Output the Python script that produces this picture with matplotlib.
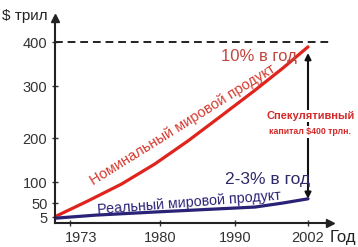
import numpy as np
import matplotlib
matplotlib.use("Agg")
import matplotlib.pyplot as plt
import matplotlib.transforms as mtransforms

plt.rcParams['font.family'] = ['Liberation Sans', 'DejaVu Sans']

# schematic axes: tick values and how far along the drawn axis they sit
x_years = [1972, 1973, 1980, 1990, 2002, 2005.6]
x_pos = [0, 15, 105, 180, 253, 275]
y_vals = [0, 5, 50, 100, 200, 300, 400, 455]
y_pos = [0, 6, 20, 41, 85, 137, 181, 205]

xticks = [1973, 1980, 1990, 2002]
yticks = [5, 50, 100, 200, 300, 400]

# curves
nom_years = [1972, 1974.4, 1977, 1979.6, 1983.7, 1988.3, 1993.3, 1997.9, 2002]
nom_vals = [6, 55, 95, 141, 193, 244, 292, 341, 389]
real_years = [1972, 1975, 1979.6, 1986, 1993.3, 1997.9, 2002]
real_vals = [4, 11, 21, 29, 37, 50, 60]

red = '#e0231c'
navy = '#2a2277'

fig = plt.figure(figsize=(3.58, 2.47), dpi=100)
ax = fig.add_axes([55/358, 24/247, 275/358, 205/247])

ax.set_xscale('function', functions=(lambda v: np.interp(v, x_years, x_pos),
                                     lambda p: np.interp(p, x_pos, x_years)))
ax.set_yscale('function', functions=(lambda v: np.interp(v, y_vals, y_pos),
                                     lambda p: np.interp(p, y_pos, y_vals)))
ax.set_xlim(1972, 2005.6)
ax.set_ylim(0, 455)

ax.plot(nom_years, nom_vals, color=red, lw=2.3, solid_capstyle='round',
        solid_joinstyle='round')
ax.plot(real_years, real_vals, color=navy, lw=2.3, solid_capstyle='round',
        solid_joinstyle='round')

ax.axhline(400, color='#222222', lw=1.4, ls=(0, (4, 2.5)))

ax.annotate('', xy=(2002, 375), xytext=(2002, 60),
            arrowprops=dict(arrowstyle='<|-|>', color='#111111', lw=1.5,
                            mutation_scale=9, shrinkA=0, shrinkB=0))

ax.text(2002.4, 242, 'Спекулятивный', color='#d42a2a', fontsize=8,
        fontweight='bold', ha='center', va='center',
        bbox=dict(fc='white', ec='none', pad=1))
ax.text(2002.4, 212, 'капитал $400 трлн.', color='#d42a2a', fontsize=6.3,
        fontweight='bold', ha='center', va='center',
        bbox=dict(fc='white', ec='none', pad=1))

ax.text(1993.9, 366, '10% в год', color='#c2463f', fontsize=12,
        ha='center', va='center')
ax.text(1995.3, 105, '2-3% в год', color='#2e2a6a', fontsize=12.5,
        ha='center', va='center')
ax.text(1983.0, 225, 'Номинальный мировой продукт', color='#d43a30',
        fontsize=10.5, rotation=32, ha='center', va='center',
        rotation_mode='anchor')
ax.text(1983.9, 50, 'Реальный мировой продукт', color=navy,
        fontsize=10.3, rotation=4.5, ha='center', va='center',
        rotation_mode='anchor')

for s in ['top', 'right']:
    ax.spines[s].set_visible(False)
for s in ['left', 'bottom']:
    ax.spines[s].set_linewidth(1.5)
    ax.spines[s].set_color('#222222')

ax.plot([0], [1], marker='^', color='#222222', markersize=6,
        transform=ax.transAxes, clip_on=False)
ax.plot([1], [0], marker='>', color='#222222', markersize=6,
        transform=ax.transAxes, clip_on=False)

ax.set_xticks(xticks)
ax.set_xticklabels([str(t) for t in xticks])
ax.set_yticks(yticks)
ax.set_yticklabels([str(t) for t in yticks])
ax.minorticks_off()
ax.tick_params(direction='inout', length=5, width=1, color='#333333',
               labelsize=10.5, labelcolor='#333333')
ax.tick_params(axis='x', pad=3)
ax.tick_params(axis='y', pad=3)

# the 1973 label sits a little right of its tick in the original
lab = ax.get_xticklabels()[0]
lab.set_transform(lab.get_transform() +
                  mtransforms.ScaledTranslation(11/100, 0, fig.dpi_scale_trans))

fig.text(2/358, 1 - 16/247, '$ трил', fontsize=11, color='#222222',
         ha='left', va='center')
fig.text(356/358, 1 - 237/247, 'Год', fontsize=12, color='#222222',
         ha='right', va='center')

fig.savefig('out.png', dpi=100)
